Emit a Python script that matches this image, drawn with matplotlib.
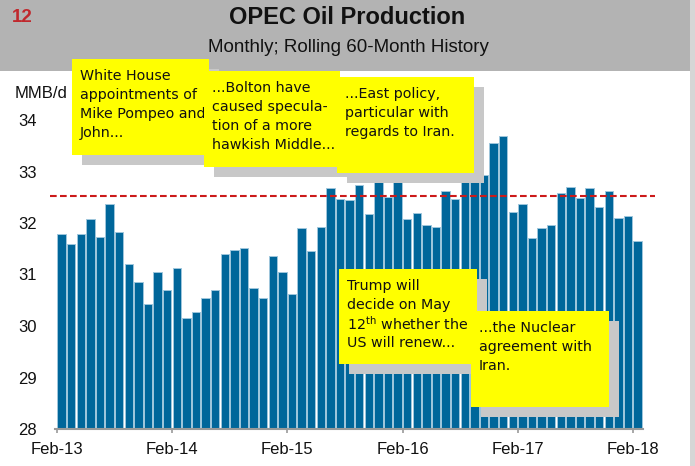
import matplotlib
matplotlib.use("Agg")
import matplotlib.pyplot as plt
from matplotlib.patches import Rectangle
import numpy as np

# monthly OPEC production, Feb-13 .. Feb-18 (MMB/d)
production = [
    31.78, 31.59, 31.78, 32.08, 31.73, 32.36, 31.82, 31.20, 30.85, 30.42, 31.04, 30.70,
    31.12, 30.15, 30.27, 30.54, 30.69, 31.39, 31.47, 31.51, 30.73, 30.54, 31.35, 31.04,
    30.62, 31.90, 31.46, 31.93, 32.67, 32.47, 32.44, 32.74, 32.17, 32.80, 32.51, 32.82,
    32.08, 32.20, 31.97, 31.93, 32.63, 32.47, 32.86, 32.90, 32.94, 33.56, 33.68, 32.21,
    32.36, 31.70, 31.90, 31.97, 32.59, 32.70, 32.48, 32.67, 32.32, 32.63, 32.09, 32.13,
    31.66,
]
average_level = 32.52
tick_labels = ["Feb-13", "Feb-14", "Feb-15", "Feb-16", "Feb-17", "Feb-18"]
yticks = [28, 29, 30, 31, 32, 33, 34]

notes = [
    ["White House", "appointments of", "Mike Pompeo and", "John..."],
    ["...Bolton have", "caused specula-", "tion of a more", "hawkish Middle..."],
    ["...East policy,", "particular with", "regards to Iran."],
    ["Trump will", "decide on May", r"12$^{\mathrm{th}}$ whether the", "US will renew..."],
    ["...the Nuclear", "agreement with", "Iran."],
]
# box rectangles in pixels: left, top, right, bottom
note_boxes = [
    (72, 59, 209, 155),
    (204, 71, 340, 167),
    (337, 77, 474, 173),
    (339, 269, 477, 364),
    (471, 311, 609, 407),
]

W, H = 695, 466
fig = plt.figure(figsize=(W / 100, H / 100), dpi=100)


def fx(x):
    return x / W


def fy(y):
    return 1 - y / H


# header band and right strip
fig.patches.append(Rectangle((0, fy(71)), fx(690), 71 / H, transform=fig.transFigure,
                             facecolor="#b3b3b3", edgecolor="none", zorder=0))
fig.patches.append(Rectangle((fx(690), 0), fx(5), 1, transform=fig.transFigure,
                             facecolor="#d6d6d6", edgecolor="none", zorder=0))

fig.text(fx(12), fy(17), "12", color="#c0282d", fontsize=13.5, fontweight="bold",
         family="Liberation Sans", va="center", ha="left")
fig.text(fx(347), fy(18), "OPEC Oil Production", fontsize=17, fontweight="bold",
         family="Liberation Sans", va="center", ha="center", color="#111111")
fig.text(fx(348), fy(47), "Monthly; Rolling 60-Month History", fontsize=13.5,
         family="Liberation Sans", va="center", ha="center", color="#111111")
fig.text(fx(15), fy(93), "MMB/d", fontsize=12, family="Liberation Sans",
         va="center", ha="left", color="#111111", zorder=2)

ax = fig.add_axes([fx(55), 37 / H, 588 / W, 309 / H])
ax.set_facecolor("none")

x = np.arange(len(production))
ax.bar(x + 0.05, np.array(production) - 28, bottom=28, width=0.87, align="edge",
       color="#00669a", edgecolor="#9ec6dc", linewidth=0.7)
ax.plot([-0.7, 62.3], [average_level, average_level], color="#cc1a1a", lw=1.5,
        dashes=(3.2, 1.6), clip_on=False, zorder=3)

ax.set_xlim(-0.21, 61.04)
ax.set_ylim(28, 34)
ax.set_xticks([0, 12, 24, 36, 48, 60])
ax.set_xticklabels(tick_labels, fontsize=12, family="Liberation Sans", color="#111111")
ax.set_yticks(yticks)
ax.set_yticklabels([str(v) for v in yticks], fontsize=12, family="Liberation Sans",
                   color="#111111")
ax.tick_params(axis="x", length=3, width=1.2, color="#999999", pad=6, direction="out")
ax.tick_params(axis="y", length=0, pad=13)
for side in ["top", "right", "left"]:
    ax.spines[side].set_visible(False)
ax.spines["bottom"].set_color("#999999")
ax.spines["bottom"].set_linewidth(1.5)

# sticky notes
z = 5
for (l, t, r, b), lines in zip(note_boxes, notes):
    fig.patches.append(Rectangle((fx(l + 10), fy(b + 10)), (r - l) / W, (b - t) / H,
                                 transform=fig.transFigure, facecolor="#c8c8c8",
                                 edgecolor="none", zorder=z))
    fig.patches.append(Rectangle((fx(l), fy(b)), (r - l) / W, (b - t) / H,
                                 transform=fig.transFigure, facecolor="#ffff00",
                                 edgecolor="none", zorder=z + 0.1))
    for k, line in enumerate(lines):
        fig.text(fx(l + 8), fy(t + 17 + 19 * k), line, fontsize=10.3,
                 family="DejaVu Sans", va="center", ha="left", color="#111111",
                 zorder=z + 0.2)
    z += 1

fig.savefig("out.png", dpi=100)
